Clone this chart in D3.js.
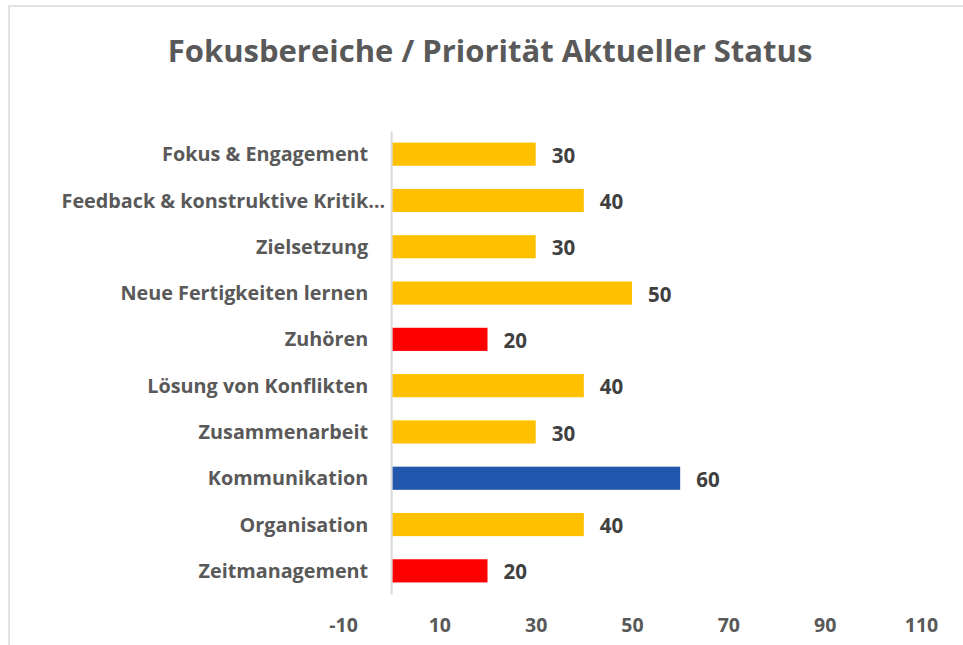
<!DOCTYPE html>
<html>
<head>
<meta charset="utf-8">
<script src="https://cdn.jsdelivr.net/npm/d3@7"></script>
<style>
  body { margin: 0; background: #fff; }
  text { font-family: "Open Sans", "Noto Sans", sans-serif; font-weight: 700; }
</style>
</head>
<body>
<div id="chart"></div>
<script>
var categories = [
    "Fokus & Engagement",
    "Feedback & konstruktive Kritik…",
    "Zielsetzung",
    "Neue Fertigkeiten lernen",
    "Zuhören",
    "Lösung von Konflikten",
    "Zusammenarbeit",
    "Kommunikation",
    "Organisation",
    "Zeitmanagement"
];
var values = [30, 40, 30, 50, 20, 40, 30, 60, 40, 20];
var barColors = ["#FFC000", "#FFC000", "#FFC000", "#FFC000", "#FF0000", "#FFC000", "#FFC000", "#2257AD", "#FFC000", "#FF0000"];
var tickValues = [-10, 10, 30, 50, 70, 90, 110];

var width = 963, height = 645;

var svg = d3.select("#chart").append("svg").attr("width", width).attr("height", height);

// rahmen (nur links und oben sichtbar)
svg.append("rect")
    .attr("x", 9).attr("y", 6)
    .attr("width", 1000).attr("height", 700)
    .style("fill", "none").style("stroke", "#D9D9D9").style("stroke-width", 1.5);

svg.append("text")
    .attr("x", 490).attr("y", 62)
    .attr("text-anchor", "middle")
    .style("font-size", "31px")
    .style("fill", "#595959")
    .text("Fokusbereiche / Priorität Aktueller Status");

var x = d3.scaleLinear().domain([-10, 110]).range([343, 921]);
var y = d3.scaleBand().domain(categories).range([131, 594]).paddingInner(0.5).paddingOuter(0.25);

// x achse, nur beschriftung
var xAxis = svg.append("g")
    .attr("transform", "translate(0,617)")
    .call(d3.axisBottom(x).tickValues(tickValues).tickSize(0).tickPadding(0)
        .tickFormat(function(d) { return String(d); }));
xAxis.select(".domain").remove();
xAxis.selectAll("text")
    .attr("dy", "0.75em")
    .style("font-size", "19.5px")
    .style("font-family", "\"Open Sans\", sans-serif")
    .style("font-weight", 700)
    .style("fill", "#595959");

svg.selectAll("rect.bar")
    .data(values)
    .enter().append("rect")
    .attr("class", "bar")
    .attr("x", x(0))
    .attr("y", function(d, i) { return y(categories[i]); })
    .attr("width", function(d) { return x(d) - x(0); })
    .attr("height", y.bandwidth())
    .style("fill", function(d, i) { return barColors[i]; });

// y achse
var yAxis = svg.append("g")
    .attr("transform", "translate(" + x(0) + ",0)")
    .call(d3.axisLeft(y).tickSize(0).tickPadding(23));
yAxis.select(".domain").style("stroke", "#D9D9D9").style("stroke-width", 2);
yAxis.selectAll("text")
    .attr("dy", "0.36em")
    .style("font-size", "19.8px")
    .style("font-family", "\"Open Sans\", sans-serif")
    .style("font-weight", 700)
    .style("fill", "#595959");
// die abgeschnittene beschriftung ragt etwas weiter nach rechts
yAxis.selectAll(".tick text")
    .filter(function(d) { return d.slice(-1) === "…"; })
    .attr("x", -6);

svg.selectAll("text.val")
    .data(values)
    .enter().append("text")
    .attr("class", "val")
    .attr("x", function(d) { return x(d) + 16; })
    .attr("y", function(d, i) { return y(categories[i]) + y.bandwidth() / 2; })
    .attr("dy", "0.42em")
    .style("font-size", "20.5px")
    .style("fill", "#404040")
    .text(function(d) { return d; });
</script>
</body>
</html>
